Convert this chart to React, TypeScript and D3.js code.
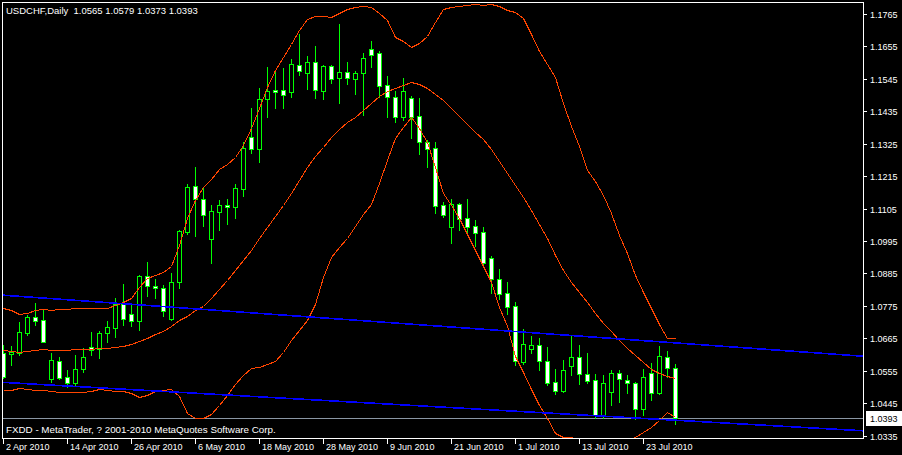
import React from "react";
import * as d3 from "d3";

const WIDTH = 902;
const HEIGHT = 455;

// USDCHF daily candles, 2 Apr 2010 .. end of Jul 2010 (85 bars)
const opens = [1.0614,1.0611,1.0616,1.0684,1.0736,1.0726,1.0526,1.0587,1.0532,1.0514,
1.0560,1.0634,1.0627,1.0684,1.0701,1.0780,1.0746,1.0725,1.0876,1.0842,
1.0834,1.0729,1.0855,1.1026,1.1182,1.1136,1.1001,1.1094,1.1117,1.1111,
1.1172,1.1347,1.1308,1.1476,1.1506,1.1506,1.1501,1.1591,1.1566,1.1601,
1.1505,1.1588,1.1547,1.1567,1.1546,1.1564,1.1645,1.1632,1.1523,1.1482,
1.1414,1.1479,1.1418,1.1330,1.1309,1.1117,1.1041,1.1120,1.1072,1.1046,
1.1024,1.0936,1.0866,1.0817,1.0773,1.0584,1.0630,1.0641,1.0587,1.0517,
1.0487,1.0572,1.0600,1.0544,1.0523,1.0405,1.0484,1.0546,1.0522,1.0512,
1.0424,1.0546,1.0480,1.0600,1.0565];

const highs = [1.0642,1.0639,1.0721,1.0744,1.0786,1.0761,1.0614,1.0600,1.0557,1.0608,
1.0631,1.0685,1.0690,1.0723,1.0800,1.0849,1.0784,1.0880,1.0925,1.0865,
1.0846,1.0885,1.1032,1.1188,1.1247,1.1174,1.1117,1.1134,1.1137,1.1188,
1.1332,1.1445,1.1513,1.1584,1.1569,1.1581,1.1611,1.1697,1.1623,1.1656,
1.1591,1.1591,1.1731,1.1602,1.1572,1.1633,1.1673,1.1640,1.1555,1.1503,
1.1547,1.1487,1.1480,1.1338,1.1331,1.1126,1.1136,1.1123,1.1137,1.1065,
1.1041,1.0944,1.0900,1.0856,1.0788,1.0695,1.0673,1.0665,1.0634,1.0560,
1.0591,1.0673,1.0642,1.0616,1.0544,1.0540,1.0557,1.0557,1.0540,1.0515,
1.0560,1.0582,1.0639,1.0622,1.0579];

const lows = [1.0530,1.0574,1.0608,1.0676,1.0710,1.0652,1.0518,1.0526,1.0499,1.0503,
1.0551,1.0608,1.0599,1.0653,1.0670,1.0710,1.0708,1.0693,1.0808,1.0802,
1.0741,1.0728,1.0836,1.1018,1.1013,1.1046,1.0921,1.1032,1.1053,1.1074,
1.1149,1.1294,1.1264,1.1417,1.1447,1.1447,1.1484,1.1558,1.1511,1.1481,
1.1477,1.1532,1.1464,1.1527,1.1494,1.1422,1.1584,1.1484,1.1414,1.1397,
1.1404,1.1345,1.1291,1.1247,1.1091,1.1077,1.0989,1.1032,1.1015,1.0979,
1.0917,1.0817,1.0798,1.0747,1.0574,1.0578,1.0615,1.0557,1.0505,1.0476,
1.0484,1.0540,1.0510,1.0512,1.0393,1.0393,1.0439,1.0450,1.0480,1.0390,
1.0405,1.0455,1.0476,1.0535,1.0373];

const closes = [1.0535,1.0619,1.0686,1.0736,1.0725,1.0653,1.0591,1.0531,1.0514,1.0561,
1.0600,1.0625,1.0682,1.0702,1.0780,1.0729,1.0725,1.0876,1.0842,1.0834,
1.0758,1.0855,1.1029,1.1177,1.1136,1.1082,1.1097,1.1117,1.1111,1.1174,
1.1309,1.1308,1.1476,1.1504,1.1499,1.1489,1.1594,1.1571,1.1603,1.1508,
1.1588,1.1544,1.1567,1.1547,1.1564,1.1615,1.1627,1.1522,1.1482,1.1414,
1.1503,1.1417,1.1330,1.1306,1.1115,1.1083,1.1120,1.1071,1.1043,1.1023,
1.0921,1.0865,1.0815,1.0772,1.0589,1.0645,1.0641,1.0589,1.0514,1.0487,
1.0557,1.0600,1.0543,1.0521,1.0405,1.0512,1.0547,1.0526,1.0512,1.0424,
1.0532,1.0480,1.0605,1.0563,1.0393];

// Bollinger bands read per bar
const bbUpper = [1.0768,1.0761,1.0747,1.0751,1.0761,1.0764,1.0761,1.0764,1.0764,1.0768,
1.0768,1.0768,1.0768,1.0768,1.0778,1.0788,1.0801,1.0839,1.0869,1.0880,
1.0890,1.0910,1.0981,1.1073,1.1134,1.1178,1.1205,1.1239,1.1256,1.1280,
1.1321,1.1378,1.1446,1.1517,1.1575,1.1619,1.1663,1.1711,1.1748,1.1758,
1.1758,1.1755,1.1768,1.1782,1.1789,1.1792,1.1789,1.1768,1.1745,1.1687,
1.1673,1.1653,1.1667,1.1690,1.1738,1.1782,1.1789,1.1792,1.1796,1.1799,
1.1796,1.1799,1.1792,1.1779,1.1772,1.1751,1.1697,1.1640,1.1595,1.1551,
1.1463,1.1385,1.1317,1.1236,1.1198,1.1151,1.1090,1.1015,1.0954,1.0880,
1.0822,1.0768,1.0713,1.0666,1.0666];

const bbMiddle = [1.0625,1.0622,1.0618,1.0622,1.0625,1.0629,1.0625,1.0625,1.0625,1.0629,
1.0629,1.0629,1.0632,1.0632,1.0635,1.0639,1.0645,1.0656,1.0666,1.0679,
1.0690,1.0707,1.0727,1.0740,1.0761,1.0774,1.0801,1.0832,1.0863,1.0897,
1.0930,1.0964,1.1005,1.1042,1.1080,1.1117,1.1158,1.1202,1.1246,1.1283,
1.1314,1.1348,1.1375,1.1399,1.1416,1.1439,1.1463,1.1487,1.1504,1.1514,
1.1524,1.1534,1.1528,1.1514,1.1494,1.1473,1.1446,1.1419,1.1392,1.1365,
1.1341,1.1307,1.1266,1.1226,1.1185,1.1144,1.1100,1.1053,1.1005,1.0947,
1.0897,1.0856,1.0822,1.0788,1.0751,1.0717,1.0690,1.0659,1.0632,1.0608,
1.0584,1.0561,1.0547,1.0537,1.0530];

const bbLower = [1.0489,1.0489,1.0496,1.0493,1.0489,1.0489,1.0486,1.0483,1.0483,1.0483,
1.0483,1.0486,1.0493,1.0489,1.0486,1.0486,1.0479,1.0466,1.0472,1.0486,
1.0489,1.0493,1.0469,1.0411,1.0394,1.0394,1.0408,1.0439,1.0472,1.0510,
1.0540,1.0564,1.0567,1.0578,1.0588,1.0618,1.0659,1.0693,1.0727,1.0781,
1.0873,1.0941,1.0975,1.1005,1.1046,1.1087,1.1120,1.1192,1.1270,1.1344,
1.1382,1.1416,1.1378,1.1331,1.1246,1.1158,1.1117,1.1073,1.1019,1.0964,
1.0910,1.0856,1.0771,1.0707,1.0605,1.0551,1.0493,1.0439,1.0394,1.0344,
1.0330,1.0330,1.0316,1.0296,1.0269,1.0266,1.0279,1.0296,1.0316,1.0330,
1.0347,1.0364,1.0388,1.0415,1.0398];

// Trend lines (bar index, price)
const trendUpperBars = [-0.5, 107.5];
const trendUpperPrices = [1.0812, 1.0604];
const trendLowerBars = [-0.5, 107.5];
const trendLowerPrices = [1.0516, 1.0351];

const dateTickBars = [0, 8, 16, 24, 32, 40, 48, 56, 64, 72, 80];
const dateTickLabels = ["2 Apr 2010", "14 Apr 2010", "26 Apr 2010", "6 May 2010", "18 May 2010",
  "28 May 2010", "9 Jun 2010", "21 Jun 2010", "1 Jul 2010", "13 Jul 2010", "23 Jul 2010"];

const priceTicks = [1.1765, 1.1655, 1.1545, 1.1435, 1.1325, 1.1215, 1.1105, 1.0995,
  1.0885, 1.0775, 1.0665, 1.0555, 1.0445, 1.0335];

const bidPrice = 1.0393;
const titleText = "USDCHF,Daily  1.0565 1.0579 1.0373 1.0393";
const copyrightText = "FXDD - MetaTrader, ? 2001-2010 MetaQuotes Software Corp.";

const FONT = "Tahoma, 'Liberation Sans', Arial, sans-serif";
const GREEN = "#00ff00";
const BAND = "#ff4500";

export default function App() {
  const plotLeft = 2, plotTop = 2, plotRight = 863, plotBottom = 438;
  const x = d3.scaleLinear().domain([0, 84]).range([3, 675]);
  const y = d3.scaleLinear().domain([1.0335, 1.1765]).range([435.5, 14]);
  const px = (i: number) => Math.round(x(i));
  const py = (v: number) => Math.round(y(v));

  const bandLine = d3.line<number>().x((_, i) => px(i) + 0.5).y((v) => py(v) + 0.5);
  const trendLine = d3.line<[number, number]>().x((d) => x(d[0])).y((d) => y(d[1]));

  const bidY = py(bidPrice);

  return (
    <svg width={WIDTH} height={HEIGHT} style={{ position: "fixed", left: 0, top: 0, display: "block" }}
      xmlns="http://www.w3.org/2000/svg">
      <defs>
        <clipPath id="plotClip">
          <rect x={plotLeft + 1} y={plotTop + 1} width={plotRight - plotLeft - 1} height={plotBottom - plotTop - 1} />
        </clipPath>
      </defs>
      <rect x={0} y={0} width={WIDTH} height={HEIGHT} fill="#000" />

      <g clipPath="url(#plotClip)">
        {/* bid line */}
        <line x1={plotLeft} x2={plotRight} y1={bidY + 0.5} y2={bidY + 0.5} stroke="#8a96a4" strokeWidth={1} shapeRendering="crispEdges" />

        {/* candles */}
        {opens.map((o, i) => {
          const c = closes[i];
          const cx = px(i);
          const hi = py(highs[i]);
          const lo = py(lows[i]);
          const top = py(Math.max(o, c));
          const bot = py(Math.min(o, c));
          const bear = c < o;
          return (
            <g key={i} shapeRendering="crispEdges">
              <rect x={cx} y={hi} width={1} height={lo - hi + 1} fill={GREEN} />
              {bot - top < 1 ? (
                <rect x={cx - 2} y={top} width={5} height={1} fill={GREEN} />
              ) : (
                <rect x={cx - 1.5} y={top + 0.5} width={4} height={bot - top}
                  fill={bear ? "#ffffff" : "#000000"} stroke={GREEN} strokeWidth={1} />
              )}
            </g>
          );
        })}

        {/* Bollinger bands */}
        {[bbUpper, bbMiddle, bbLower].map((band, k) => (
          <path key={k} d={bandLine(band) || ""} fill="none" stroke={BAND} strokeWidth={1} shapeRendering="crispEdges" />
        ))}

        {/* trend lines */}
        <path d={trendLine(trendUpperBars.map((b, i) => [b, trendUpperPrices[i]] as [number, number])) || ""}
          fill="none" stroke="#0000ff" strokeWidth={1.6} shapeRendering="crispEdges" />
        <path d={trendLine(trendLowerBars.map((b, i) => [b, trendLowerPrices[i]] as [number, number])) || ""}
          fill="none" stroke="#0000ff" strokeWidth={1.6} shapeRendering="crispEdges" />
      </g>

      {/* frame */}
      <rect x={plotLeft + 0.5} y={plotTop + 0.5} width={plotRight - plotLeft} height={plotBottom - plotTop}
        fill="none" stroke="#ffffff" strokeWidth={1} shapeRendering="crispEdges" />

      {/* title and copyright */}
      <text x={6} y={14} fill="#fff" fontFamily={FONT} fontSize={9.5} style={{ whiteSpace: "pre" }}>{titleText}</text>
      <text x={6} y={433} fill="#fff" fontFamily={FONT} fontSize={9.8}>{copyrightText}</text>

      {/* price axis */}
      {priceTicks.map((p) => (
        <g key={p}>
          <line x1={864} x2={867} y1={py(p) + 0.5} y2={py(p) + 0.5} stroke="#fff" strokeWidth={1} shapeRendering="crispEdges" />
          <text x={870} y={py(p) + 3.5} fill="#fff" fontFamily={FONT} fontSize={9}>{p.toFixed(4)}</text>
        </g>
      ))}
      <rect x={866} y={bidY - 7} width={36} height={15} fill="#fff" />
      <text x={870} y={bidY + 4} fill="#000" fontFamily={FONT} fontSize={9}>{bidPrice.toFixed(4)}</text>

      {/* time axis */}
      {dateTickBars.map((b, k) => (
        <g key={b}>
          <line x1={px(b) + 0.5} x2={px(b) + 0.5} y1={439} y2={444} stroke="#fff" strokeWidth={1} shapeRendering="crispEdges" />
          <text x={px(b) + 3} y={450} fill="#fff" fontFamily={FONT} fontSize={9}>{dateTickLabels[k]}</text>
        </g>
      ))}
    </svg>
  );
}
